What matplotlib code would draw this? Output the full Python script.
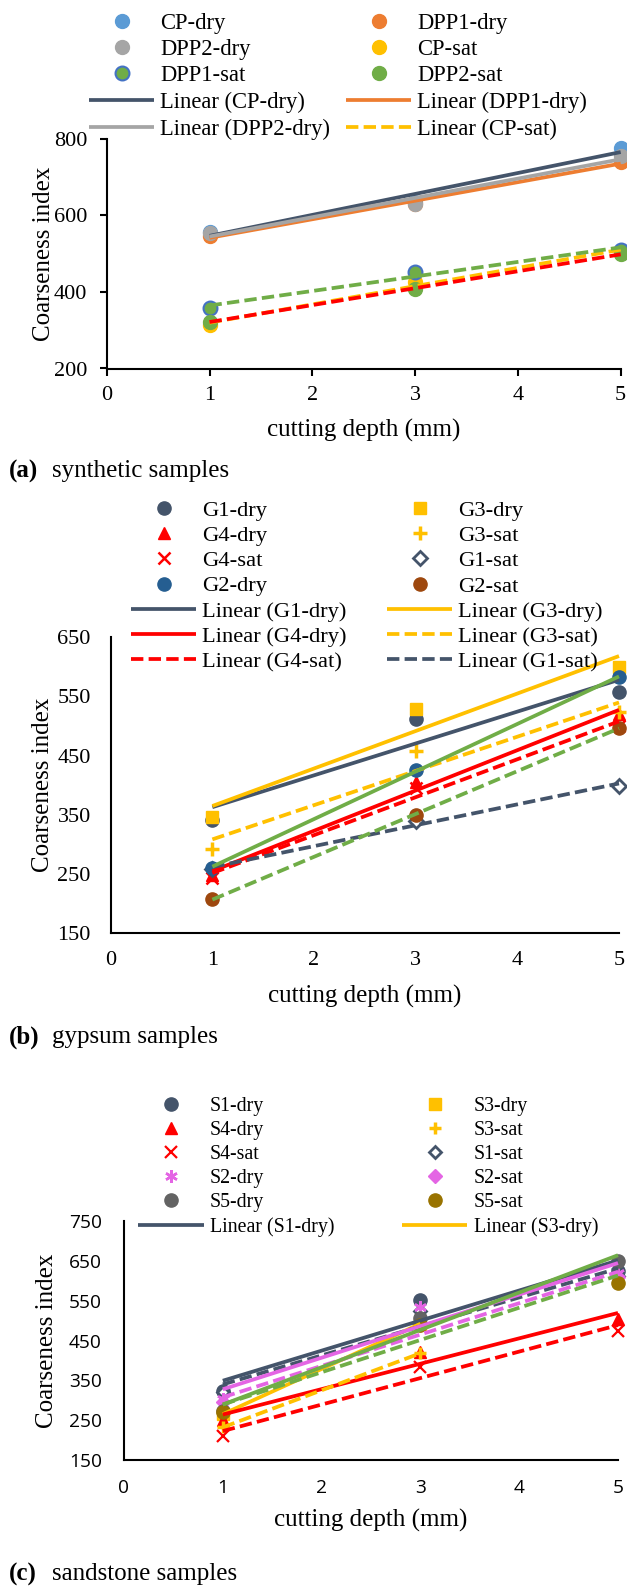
import numpy as np
import matplotlib.pyplot as plt

W, H = 627, 1586
SERIF = 'Liberation Serif'
SANS = 'Open Sans'
plt.rcParams['font.family'] = [SERIF, 'DejaVu Sans']

# cutting depth (mm)
depth = [1, 3, 5]
depth_short = [1, 3]

# (a) synthetic samples
cp_dry = [557, 636, 776]
dpp1_dry = [546, 630, 740]
dpp2_dry = [553, 630, 755]
cp_sat = [314, 427, 505]
dpp1_sat = [359, 452, 511]
dpp2_sat = [322, 409, 499]

# (b) gypsum samples
g1_dry = [342, 512, 557]
g3_dry = [346, 529, 599]
g4_dry = [248, 405, 520]
g3_sat = [292, 457, 523]
g4_sat = [244, 395, 500]
g1_sat = [258, 340, 399]
g2_dry = [261, 426, 582]
g2_sat = [208, 349, 497]

# (c) sandstone samples
s1_dry = [323, 552, 625]
s3_dry = [265, 492]
s4_dry = [250, 420, 505]
s3_sat = [232, 418]
s4_sat = [209, 383, 475]
s1_sat = [320, 525, 611]
s2_dry = [303, 535, 620]
s2_sat = [295, 490, 610]
s5_dry = [274, 507, 649]
s5_sat = [270, 490, 594]

NAVY = '#44546A'
BLUE = '#5B9BD5'
ORANGE = '#ED7D31'
GRAY = '#A5A5A5'
GOLD = '#FFC000'
DBLUE = '#4472C4'
GREEN = '#70AD47'
RED = '#FF0000'
G2BLUE = '#255E91'
BROWN = '#9E480E'
PINK = '#E465E4'
S5GRAY = '#636363'
S5GOLD = '#997300'
DASH = (0, (3.3, 1.4))

fig = plt.figure(figsize=(W / 100, H / 100), dpi=100)


def add_axes(left, right, top, bottom):
    return fig.add_axes([left / W, 1 - bottom / H, (right - left) / W, (bottom - top) / H])


def points(ax, x, y, **kw):
    line, = ax.plot(x, y, linestyle='none', clip_on=False, zorder=2, **kw)
    return line


def trend(ax, x, y, color, dashed=False):
    k, b = np.polyfit(x, y, 1)
    xs = np.array([min(x), max(x)])
    line, = ax.plot(xs, k * xs + b, color=color, lw=2.7, ls=DASH if dashed else '-',
                    zorder=3, clip_on=False, solid_capstyle='butt', dash_capstyle='butt')
    return line


def style(ax, ylim, step, ticklen, ypad, xpad, fam, fs):
    ax.set_xlim(0, 5)
    ax.set_ylim(*ylim)
    ax.set_xticks(range(6))
    ax.set_yticks(np.arange(ylim[0], ylim[1] + 1, step))
    for s in ['top', 'right']:
        ax.spines[s].set_visible(False)
    for s in ['left', 'bottom']:
        ax.spines[s].set_linewidth(1.5)
    ax.tick_params(axis='y', direction='out', length=ticklen, width=1.5, pad=ypad, labelsize=fs)
    ax.tick_params(axis='x', direction='out', length=ticklen, width=1.5, pad=xpad, labelsize=fs)
    for lab in ax.get_xticklabels() + ax.get_yticklabels():
        lab.set_fontfamily(fam)


def labels(ax, xl_y, yl_x, fs=18):
    ax.set_xlabel('cutting depth (mm)', fontsize=fs, va='center')
    ax.xaxis.set_label_coords(0.5, xl_y)
    ax.set_ylabel('Coarseness index', fontsize=fs, va='center')
    ax.yaxis.set_label_coords(yl_x, 0.5)


def column(handles, x_px, top_px, fs, hl_px, pad_px, ls):
    fpx = fs * 100 / 72
    fig.legend(handles, [h.get_label() for h in handles], loc='upper left',
               bbox_to_anchor=(x_px / W, 1 - top_px / H), frameon=False,
               borderpad=0, borderaxespad=0, handlelength=hl_px / fpx,
               handletextpad=pad_px / fpx, labelspacing=ls,
               prop={'family': SERIF, 'size': fs})


def caption(tag, text, y_px):
    fig.text(9 / W, 1 - y_px / H, tag, fontsize=18, fontweight='bold', va='center')
    fig.text(52 / W, 1 - y_px / H, text, fontsize=18, va='center')


# ---------- (a) ----------
ax = add_axes(106.7, 620.7, 139, 368.5)
pa1 = points(ax, depth, cp_dry, marker='o', ms=10, color=BLUE, label='CP-dry')
pa2 = points(ax, depth, dpp1_dry, marker='o', ms=10, color=ORANGE, label='DPP1-dry')
pa3 = points(ax, depth, dpp2_dry, marker='o', ms=10, color=GRAY, label='DPP2-dry')
pa4 = points(ax, depth, cp_sat, marker='o', ms=10, color=GOLD, label='CP-sat')
pa5 = points(ax, depth, dpp1_sat, marker='o', ms=10, mfc=GREEN, mec=DBLUE, mew=1.5, label='DPP1-sat')
pa6 = points(ax, depth, dpp2_sat, marker='o', ms=10, color=GREEN, label='DPP2-sat')
ta1 = trend(ax, depth, cp_dry, NAVY)
ta1.set_label('Linear (CP-dry)')
ta2 = trend(ax, depth, dpp1_dry, ORANGE)
ta2.set_label('Linear (DPP1-dry)')
ta3 = trend(ax, depth, dpp2_dry, GRAY)
ta3.set_label('Linear (DPP2-dry)')
ta4 = trend(ax, depth, cp_sat, GOLD, True)
ta4.set_label('Linear (CP-sat)')
trend(ax, depth, dpp1_sat, GREEN, True)
trend(ax, depth, dpp2_sat, RED, True)
style(ax, (200, 800), 200, 5, 9, 7.5, SERIF, 16)
labels(ax, -0.268, -0.122)
column([pa1, pa3, pa5, ta1, ta3], 89, 12.5, 16.3, 65, 6, 0.24)
column([pa2, pa4, pa6, ta2, ta4], 346, 12.5, 16.3, 65, 6, 0.24)
caption('(a)', 'synthetic samples', 471)

# ---------- (b) ----------
ax = add_axes(110.7, 619, 637, 933.3)
pb1 = points(ax, depth, g1_dry, marker='o', ms=9.5, color=NAVY, label='G1-dry')
pb2 = points(ax, depth, g3_dry, marker='s', ms=8.5, color=GOLD, label='G3-dry')
pb3 = points(ax, depth, g4_dry, marker='^', ms=9, color=RED, label='G4-dry')
pb4 = points(ax, depth, g3_sat, marker='+', ms=10, mew=2.5, color=GOLD, label='G3-sat')
pb5 = points(ax, depth, g4_sat, marker='x', ms=9, mew=1.8, color=RED, label='G4-sat')
pb6 = points(ax, depth, g1_sat, marker='D', ms=7, mfc='white', mec=NAVY, mew=2, label='G1-sat')
pb7 = points(ax, depth, g2_dry, marker='o', ms=9.5, color=G2BLUE, label='G2-dry')
pb8 = points(ax, depth, g2_sat, marker='o', ms=9.5, color=BROWN, label='G2-sat')
tb1 = trend(ax, depth, g1_dry, NAVY)
tb1.set_label('Linear (G1-dry)')
tb2 = trend(ax, depth, g3_dry, GOLD)
tb2.set_label('Linear (G3-dry)')
tb3 = trend(ax, depth, g4_dry, RED)
tb3.set_label('Linear (G4-dry)')
tb4 = trend(ax, depth, g3_sat, GOLD, True)
tb4.set_label('Linear (G3-sat)')
tb5 = trend(ax, depth, g4_sat, RED, True)
tb5.set_label('Linear (G4-sat)')
tb6 = trend(ax, depth, g1_sat, NAVY, True)
tb6.set_label('Linear (G1-sat)')
trend(ax, depth, g2_dry, GREEN)
trend(ax, depth, g2_sat, GREEN, True)
style(ax, (150, 650), 100, 0, 14.4, 12.5, SERIF, 16)
labels(ax, -0.212, -0.133)
column([pb1, pb3, pb5, pb7, tb1, tb3, tb5], 131, 500, 16.2, 65, 6, 0.2)
column([pb2, pb4, pb6, pb8, tb2, tb4, tb6], 387, 500, 16.2, 65, 6, 0.2)
caption('(b)', 'gypsum samples', 1037)

# ---------- (c) ----------
ax = add_axes(124, 618, 1221, 1460)
pc1 = points(ax, depth, s1_dry, marker='o', ms=9.5, color=NAVY, label='S1-dry')
pc2 = points(ax, depth_short, s3_dry, marker='s', ms=8, color=GOLD, label='S3-dry')
pc3 = points(ax, depth, s4_dry, marker='^', ms=8.5, color=RED, label='S4-dry')
pc4 = points(ax, depth_short, s3_sat, marker='+', ms=9, mew=2.5, color=GOLD, label='S3-sat')
pc5 = points(ax, depth, s4_sat, marker='x', ms=9, mew=1.6, color=RED, label='S4-sat')
pc6 = points(ax, depth, s1_sat, marker='D', ms=6.5, mfc='white', mec=NAVY, mew=2, label='S1-sat')
pc7 = points(ax, depth, s2_dry, marker=(6, 2, 0), ms=9, mew=1.8, color=PINK, label='S2-dry')
pc8 = points(ax, depth, s2_sat, marker='D', ms=7, color=PINK, label='S2-sat')
pc9 = points(ax, depth, s5_dry, marker='o', ms=9.5, color=S5GRAY, label='S5-dry')
pc10 = points(ax, depth, s5_sat, marker='o', ms=9.5, color=S5GOLD, label='S5-sat')
tc1 = trend(ax, depth, s1_dry, NAVY)
tc1.set_label('Linear (S1-dry)')
tc2 = trend(ax, depth_short, s3_dry, GOLD)
tc2.set_label('Linear (S3-dry)')
trend(ax, depth, s4_dry, RED)
trend(ax, depth_short, s3_sat, GOLD, True)
trend(ax, depth, s4_sat, RED, True)
trend(ax, depth, s1_sat, NAVY, True)
trend(ax, depth, s2_dry, PINK)
trend(ax, depth, s2_sat, PINK, True)
trend(ax, depth, s5_dry, GREEN)
trend(ax, depth, s5_sat, GREEN, True)
style(ax, (150, 750), 100, 0, 16, 14, SANS, 13.8)
labels(ax, -0.255, -0.155)
column([pc1, pc3, pc5, pc7, pc9, tc1], 138, 1097, 14.3, 66, 6, 0.25)
column([pc2, pc4, pc6, pc8, pc10, tc2], 402, 1097, 14.3, 65, 7, 0.25)
caption('(c)', 'sandstone samples', 1574)

fig.savefig('out.png', dpi=100)
